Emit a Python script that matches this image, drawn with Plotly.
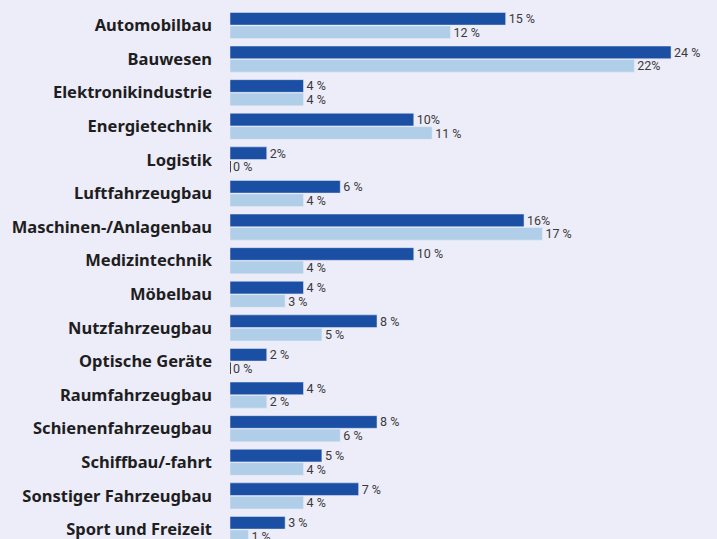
import plotly.graph_objects as go

categories = ["Automobilbau", "Bauwesen", "Elektronikindustrie", "Energietechnik", "Logistik",
              "Luftfahrzeugbau", "Maschinen-/Anlagenbau", "Medizintechnik", "Möbelbau",
              "Nutzfahrzeugbau", "Optische Geräte", "Raumfahrzeugbau", "Schienenfahrzeugbau",
              "Schiffbau/-fahrt", "Sonstiger Fahrzeugbau", "Sport und Freizeit"]
series_a = [15, 24, 4, 10, 2, 6, 16, 10, 4, 8, 2, 4, 8, 5, 7, 3]
series_b = [12, 22, 4, 11, 0, 4, 17, 4, 3, 5, 0, 2, 6, 4, 4, 1]
labels_a = ["15 %", "24 %", "4 %", "10%", "2%", "6 %", "16%", "10 %", "4 %", "8 %", "2 %", "4 %",
            "8 %", "5 %", "7 %", "3 %"]
labels_b = ["12 %", "22%", "4 %", "11 %", "0 %", "4 %", "17 %", "4 %", "3 %", "5 %", "0 %", "2 %",
            "6 %", "4 %", "4 %", "1 %"]

DARK = "#1a4fa3"
LIGHT = "#b0cee8"
BG = "#edecf9"
TXT = "#3a3a3a"

fig = go.Figure()
fig.add_trace(go.Bar(y=categories, x=series_a, orientation="h", marker_color=DARK,
                     text=labels_a, textposition="outside", constraintext="none",
                     textfont=dict(family="Roboto", size=12.5, color=TXT), name="A"))
fig.add_trace(go.Bar(y=categories, x=series_b, orientation="h", marker_color=LIGHT,
                     text=labels_b, textposition="outside", constraintext="none",
                     textfont=dict(family="Roboto", size=12.5, color=TXT), name="B"))

# thin marker for zero-value bars of series B
shapes = []
for i, v in enumerate(series_b):
    if v == 0:
        shapes.append(dict(type="line", xref="x", yref="y", x0=0, x1=0,
                           y0=i + 0.03, y1=i + 0.37, line=dict(color="#111111", width=1.5)))

fig.update_layout(
    width=717, height=539,
    margin=dict(l=230, r=0, t=0, b=0),
    paper_bgcolor=BG, plot_bgcolor=BG,
    barmode="group", bargap=0.2, bargroupgap=0.06,
    showlegend=False, hovermode=False,
    shapes=shapes,
    xaxis=dict(range=[0, 26.5], visible=False, showgrid=False, zeroline=False),
    yaxis=dict(range=[15.283, -0.759], showgrid=False, zeroline=False, showline=False,
               ticks="", ticklabelstandoff=17,
               tickfont=dict(family="Noto Sans", size=16.5, color="#1e1e1e", weight="bold")),
)

fig.write_html("out.html", config={"displayModeBar": False, "staticPlot": True},
               post_script="document.body.style.margin='0';document.body.style.overflow='hidden';document.body.style.background='" + BG + "';")
